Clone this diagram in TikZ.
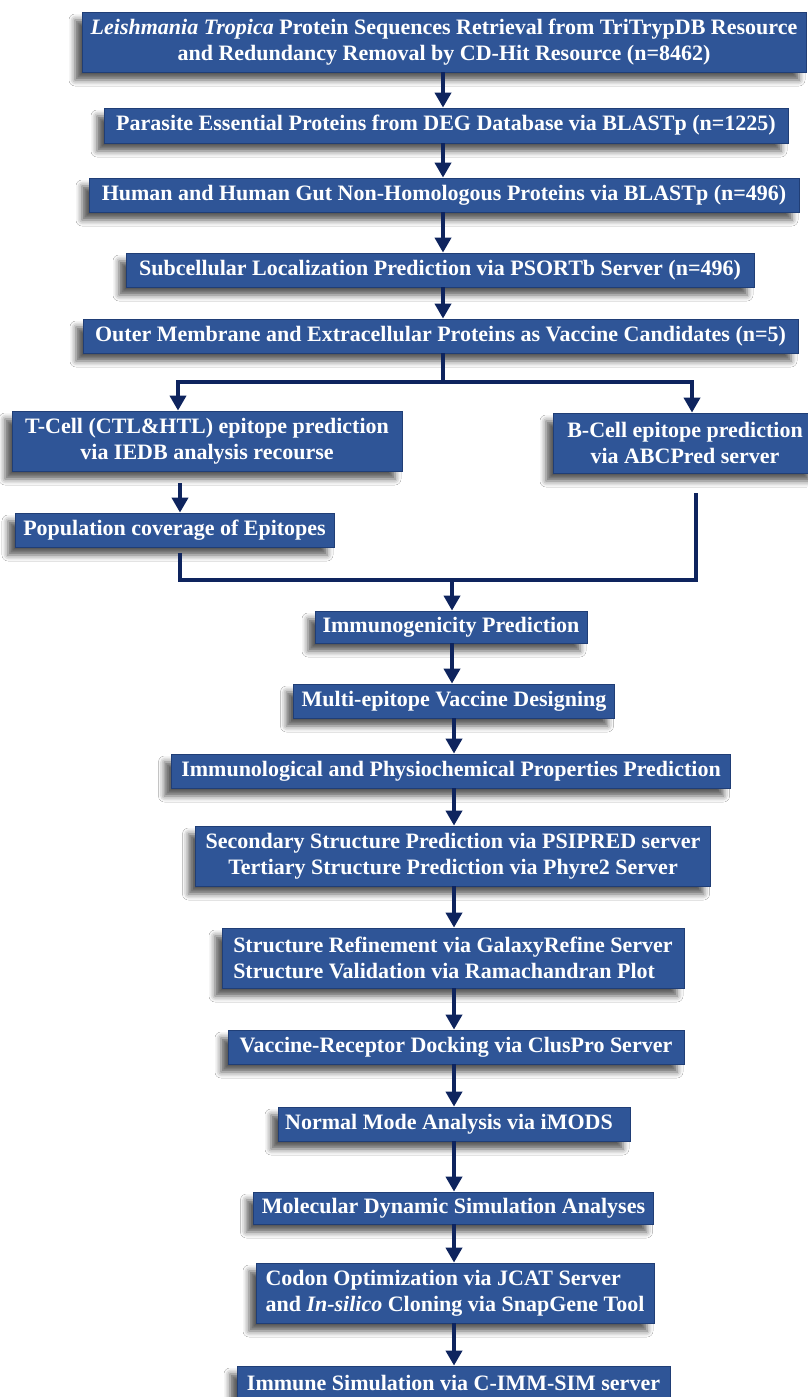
\documentclass[tikz,border=0pt]{standalone}
\usepackage{fontspec}
\setmainfont{Liberation Serif}
\usetikzlibrary{arrows.meta,shadows.blur}
\definecolor{boxblue}{RGB}{47,85,151}
\definecolor{boxedge}{RGB}{32,62,118}
\definecolor{arrowblue}{RGB}{14,36,94}
\begin{document}
\begin{tikzpicture}[x=1pt,y=-1pt,
  box/.style={draw=boxedge, line width=0.8pt, fill=boxblue, text=white,
    font=\fontsize{22}{26}\selectfont\bfseries, inner sep=0pt, align=center,
    blur shadow={shadow xshift=-7pt, shadow yshift=-8pt, shadow blur radius=6pt, shadow opacity=65}},
  arr/.style={draw=arrowblue, line width=4pt, line join=miter, -{Triangle[width=16pt,length=15pt]}},
  ln/.style={draw=arrowblue, line width=4pt, line join=miter}]
\useasboundingbox (0,0) rectangle (807,1397);
\fill[white] (0,0) rectangle (807,1397);

\node[box, minimum width=724pt, minimum height=60pt] (b1) at (444,42)
  {\textit{Leishmania Tropica} Protein Sequences Retrieval from TriTrypDB Resource\\and Redundancy Removal by CD-Hit Resource (n=8462)};
\node[box, minimum width=684pt, minimum height=35pt] (b2) at (446,125.5)
  {Parasite Essential Proteins from DEG Database via BLASTp (n=1225)};
\node[box, minimum width=710pt, minimum height=34pt] (b3) at (444,195)
  {Human and Human Gut Non-Homologous Proteins via BLASTp (n=496)};
\node[box, minimum width=628pt, minimum height=34pt] (b4) at (440,270)
  {Subcellular Localization Prediction via PSORTb Server (n=496)};
\node[box, minimum width=715pt, minimum height=34pt] (b5) at (440.5,336)
  {Outer Membrane and Extracellular Proteins as Vaccine Candidates (n=5)};
\node[box, minimum width=390pt, minimum height=60pt] (tc) at (207,441)
  {T-Cell (CTL\&HTL) epitope prediction\\via IEDB analysis recourse};
\node[box, minimum width=264pt, minimum height=60pt] (bc) at (685,443)
  {B-Cell epitope prediction\\via ABCPred server};
\node[box, minimum width=319pt, minimum height=34pt] (pop) at (174.5,530)
  {Population coverage of Epitopes};
\node[box, minimum width=272pt, minimum height=32pt] (im) at (451,627)
  {Immunogenicity Prediction};
\node[box, minimum width=321pt, minimum height=34pt] (mv) at (454,701)
  {Multi-epitope Vaccine Designing};
\node[box, minimum width=559pt, minimum height=34pt] (ip) at (451,771)
  {Immunological and Physiochemical Properties Prediction};
\node[box, minimum width=515pt, minimum height=60pt] (ss) at (453,856)
  {Secondary Structure Prediction via PSIPRED server\\Tertiary Structure Prediction via Phyre2 Server};
\node[box, minimum width=462pt, minimum height=60pt, align=left] (sr) at (453,958)
  {Structure Refinement via GalaxyRefine Server\\Structure Validation via Ramachandran Plot};
\node[box, minimum width=456pt, minimum height=34pt] (vr) at (456,1047)
  {Vaccine-Receptor Docking via ClusPro Server};
\node[box, minimum width=352pt, minimum height=34pt] (nm) at (454,1124)
  {Normal Mode Analysis via iMODS\hspace*{10pt}};
\node[box, minimum width=400pt, minimum height=32pt] (md) at (453.5,1208)
  {Molecular Dynamic Simulation Analyses};
\node[box, minimum width=398pt, minimum height=60pt, align=left] (co) at (455,1293)
  {Codon Optimization via JCAT Server\\and \textit{In-silico} Cloning via SnapGene Tool};
\node[box, minimum width=433pt, minimum height=34pt] (is) at (453.5,1383)
  {Immune Simulation via C-IMM-SIM server};

\coordinate (cx1) at (443,0);
\coordinate (cx2) at (454,0);
\coordinate (j1) at (443,382);
\coordinate (jl) at (178,382);
\coordinate (jr) at (692,382);
\coordinate (tx) at (180,0);
\coordinate (k1) at (180,580);
\coordinate (k2) at (696,580);
\coordinate (km) at (452,580);

\draw[arr] (b1.south -| cx1) -- (b2.north -| cx1);
\draw[arr] (b2.south -| cx1) -- (b3.north -| cx1);
\draw[arr] (b3.south -| cx1) -- (b4.north -| cx1);
\draw[arr] (b4.south -| cx1) -- (b5.north -| cx1);
\draw[ln] (b5.south -| j1) -- (j1);
\draw[arr] (j1) -- (jl) -- (jl |- tc.north);
\draw[arr] (j1) -- (jr) -- (jr |- bc.north);
\draw[arr, shorten <=12pt] (tc.south -| tx) -- (pop.north -| tx);
\draw[ln, shorten <=6pt, shorten >=20pt] (pop.south -| k1) -- (k1) -- (k2) -- (bc.south -| k2);
\draw[arr] (km) -- (im.north -| km);
\draw[arr] (im.south -| km) -- (mv.north -| km);
\draw[arr] (mv.south -| cx2) -- (ip.north -| cx2);
\draw[arr] (ip.south -| cx2) -- (ss.north -| cx2);
\draw[arr] (ss.south -| cx2) -- (sr.north -| cx2);
\draw[arr] (sr.south -| cx2) -- (vr.north -| cx2);
\draw[arr] (vr.south -| cx2) -- (nm.north -| cx2);
\draw[arr] (nm.south -| cx2) -- (md.north -| cx2);
\draw[arr] (md.south -| cx2) -- (co.north -| cx2);
\draw[arr] (co.south -| cx2) -- (is.north -| cx2);
\end{tikzpicture}
\end{document}
